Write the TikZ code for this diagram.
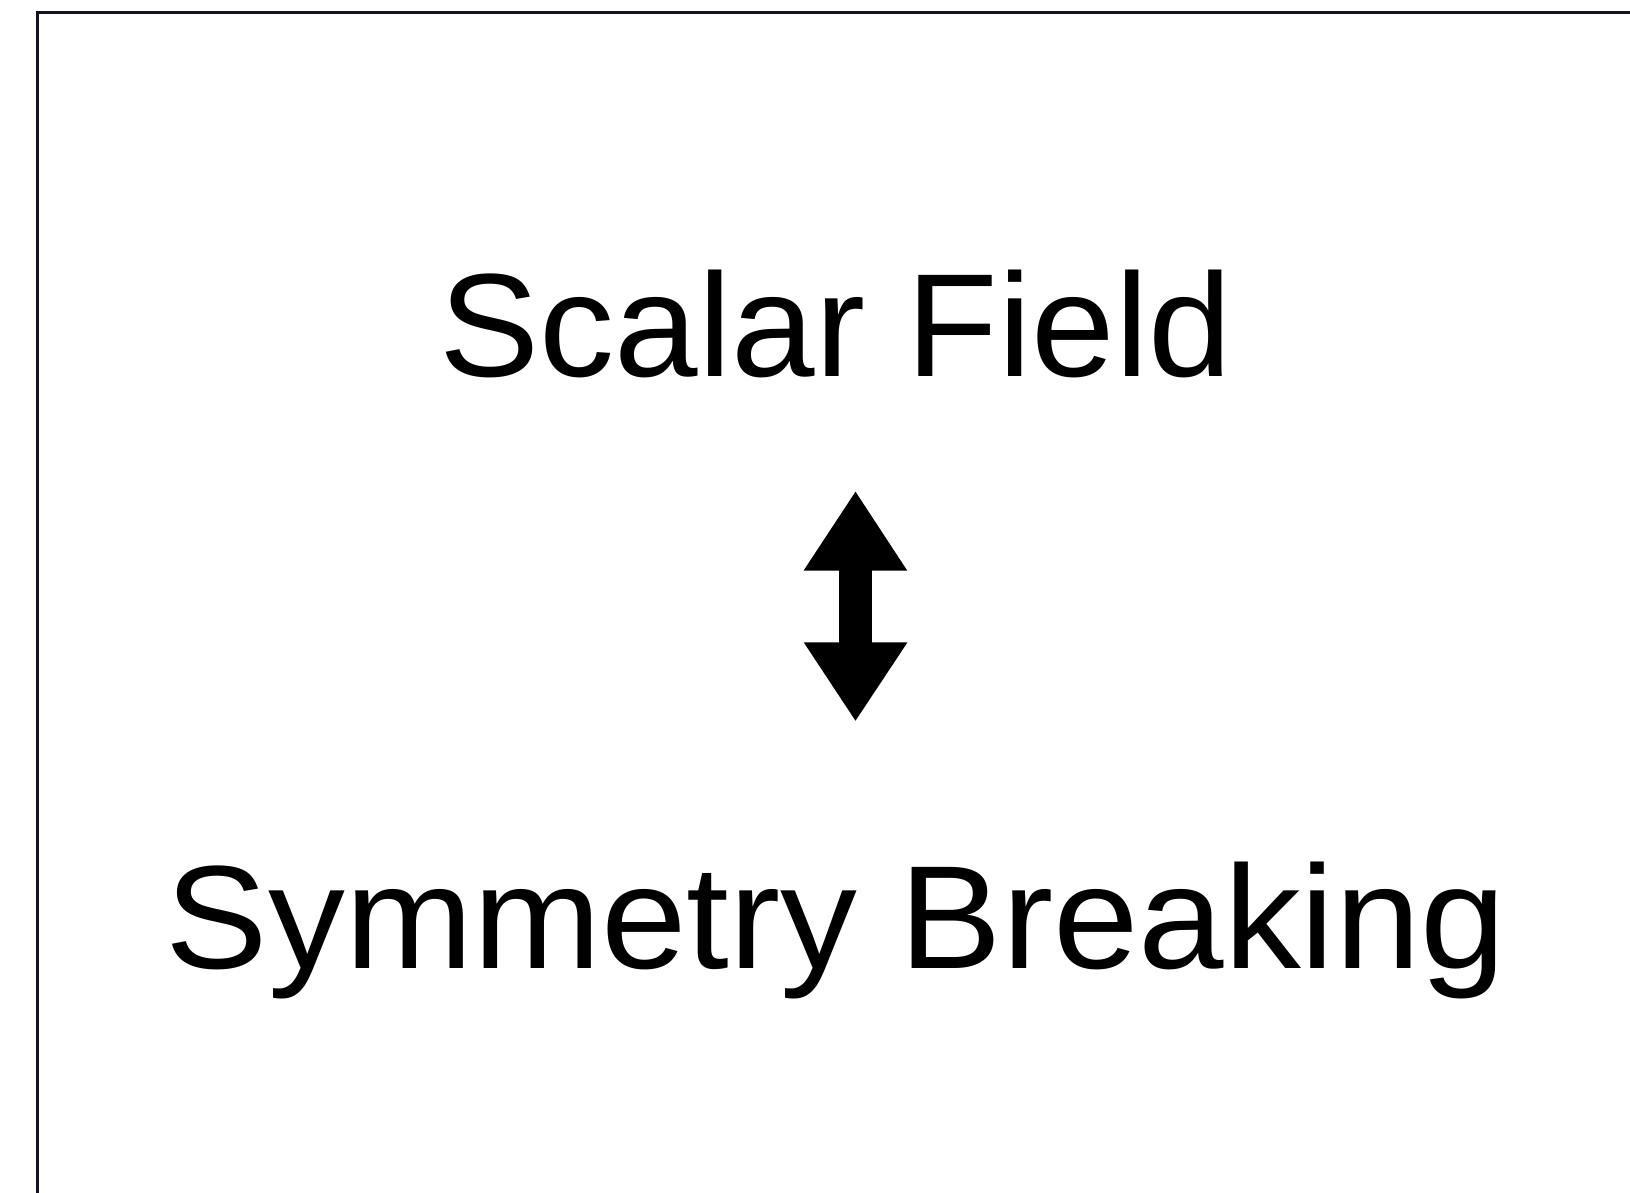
\documentclass[tikz,border=0pt]{standalone}
\usepackage{fontspec}
\setmainfont{Liberation Sans}
\usetikzlibrary{calc}
\begin{document}
\begin{tikzpicture}[x=1pt,y=-1pt,
  label/.style={inner sep=0pt, anchor=base, font=\fontsize{147}{160}\selectfont, text=black, transform shape},
  frame/.style={draw={rgb,255:red,20;green,20;blue,30}, line width=3pt}]
\useasboundingbox (0,0) rectangle (1630,1192);
\clip (0,0) rectangle (1630,1192);
\fill[white] (0,0) rectangle (1630,1192);
\draw[frame] (37.5,1300) -- (37.5,12) -- (1700,12);
\begin{scope}[shift={(836,376)}, xscale=1.021, y=1pt]
\node[label] (sf) at (0,0) {Scalar Field};
\end{scope}
\begin{scope}[shift={(836,968)}, xscale=1.045, y=1pt]
\node[label] (sb) at (0,0) {Symmetry Breaking};
\end{scope}
\coordinate (atop) at (855.5,491.7);
\coordinate (abot) at (855.5,720.7);
\fill[black] (atop) -- ($(atop)+(51.8,79)$) -- ($(atop)+(16.4,79)$) -- ($(abot)+(16.4,-78.4)$)
  -- ($(abot)+(52,-78.4)$) -- (abot) -- ($(abot)+(-51.8,-78.4)$) -- ($(abot)+(-16.4,-78.4)$)
  -- ($(atop)+(-16.4,79)$) -- ($(atop)+(-52,79)$) -- cycle;
\end{tikzpicture}
\end{document}
